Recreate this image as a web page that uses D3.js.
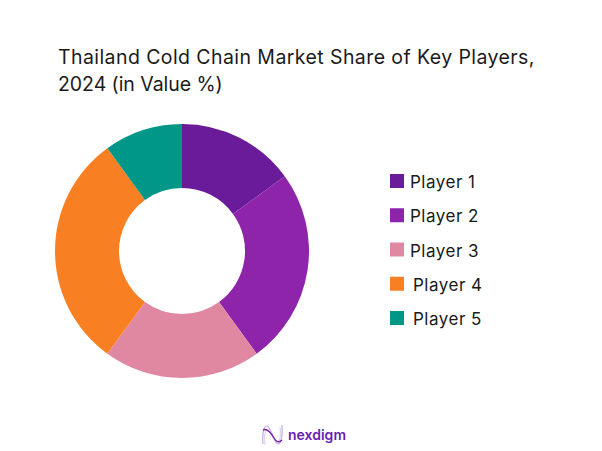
<!DOCTYPE html>
<html>
<head>
<meta charset="utf-8">
<script src="https://cdn.jsdelivr.net/npm/d3@7"></script>
<style>
html, body { margin: 0; padding: 0; background: #fff; }
svg { display: block; }
text { font-family: "Inter", "Open Sans", sans-serif; fill: #1a1a1a; }
</style>
</head>
<body>
<div id="chart"></div>
<script>
// values
const players = ["Player 1", "Player 2", "Player 3", "Player 4", "Player 5"];
const shares = [15, 25, 20, 30, 10];
const colors = ["#6a1b9a", "#8e24aa", "#e087a2", "#f97f23", "#009688"];
const title_lines = ["Thailand Cold Chain Market Share of Key Players,", "2024 (in Value %)"];

const width = 602, height = 451;

var svg = d3.select("div#chart")
	.append("svg")
	.attr("width", width)
	.attr("height", height);

// title, second line runs tighter to end where the original does
svg.selectAll(".title")
	.data(title_lines)
	.enter()
	.append("text")
	.attr("class", "title")
	.attr("x", 58)
	.attr("y", (d, i) => 64 + i * 27)
	.style("font-size", "19.5px")
	.style("font-weight", 400)
	.style("letter-spacing", (d, i) => i == 0 ? "0.42px" : "-0.05px")
	.text(d => d);

// donut
var pie = d3.pie().sort(null).value(d => d);
var arc = d3.arc().innerRadius(63).outerRadius(127);

svg.append("g")
	.attr("transform", "translate(182,251)")
	.selectAll("path")
	.data(pie(shares))
	.enter()
	.append("path")
	.attr("d", arc)
	.style("fill", (d, i) => colors[i]);

// legend
var y_legend = d3.scalePoint()
	.domain(players)
	.range([181, 318]);

var legend = svg.selectAll(".legend")
	.data(players)
	.enter()
	.append("g")
	.attr("class", "legend")
	.attr("transform", d => "translate(390," + y_legend(d) + ")");

legend.append("rect")
	.attr("y", -7)
	.attr("width", 14)
	.attr("height", 14)
	.style("fill", (d, i) => colors[i]);

// the last two labels sit a little further right in the original
legend.append("text")
	.attr("x", (d, i) => i > 2 ? 23 : 20)
	.attr("y", 7)
	.style("font-size", "17px")
	.style("letter-spacing", "0.5px")
	.text(d => d);

// logo
var logo = svg.append("g")
	.attr("transform", "translate(262,425)")
	.style("fill", "none");

logo.append("path")
	.attr("d", "M1,19 C0,7 2,1 5,1 C9,1 12,19 16,19 C19,19 21,10 20,0")
	.style("stroke", "#c3aee8")
	.style("stroke-width", 1.2);

logo.append("path")
	.attr("d", "M3,20 C2,10 3,4 6,4 C10,4 11,16 15,17 C18,17 19,10 18,2")
	.style("stroke", "#d9c9f0")
	.style("stroke-width", 1);

logo.append("path")
	.attr("d", "M1,5 C5,3 9,8 12,13 C14,17 17,18 20,15")
	.style("stroke", "#7b1fa2")
	.style("stroke-width", 1.4);

svg.append("text")
	.attr("x", 288)
	.attr("y", 440)
	.style("font-size", "14px")
	.style("font-weight", 600)
	.style("fill", "#6a1fb0")
	.text("nexdigm");
</script>
</body>
</html>
